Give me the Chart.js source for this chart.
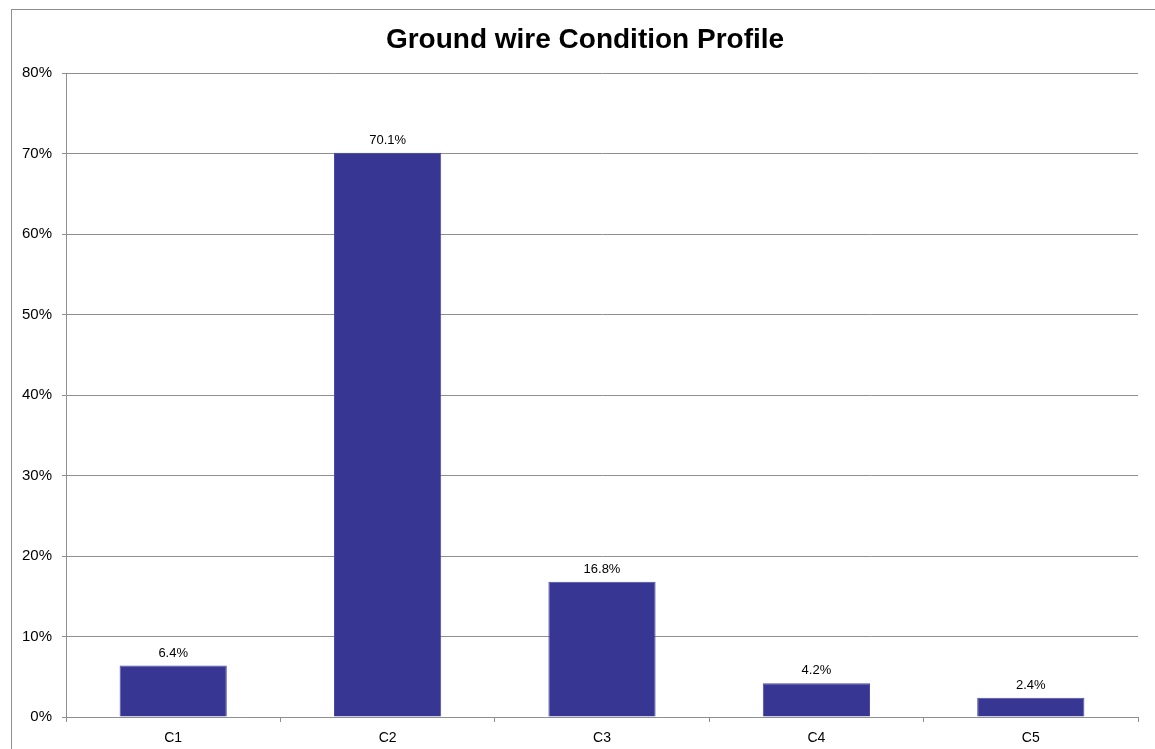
<!DOCTYPE html>
<html>
<head>
<meta charset="utf-8">
<script src="https://cdn.jsdelivr.net/npm/chart.js@4/dist/chart.umd.min.js"></script>
<style>
  html, body { margin: 0; padding: 0; background: #fff; }
  #wrap { width: 1155px; height: 749px; position: relative; }
</style>
</head>
<body>
<div id="wrap"><canvas id="c" width="1155" height="749"></canvas></div>
<script>
// Condition classes and share of ground wire in each (percent)
const categories = ['C1', 'C2', 'C3', 'C4', 'C5'];
const shares = [6.4, 70.1, 16.8, 4.2, 2.4];
const chartTitle = 'Ground wire Condition Profile';
const yMax = 80;
const yStep = 10;

const FONT = '"Liberation Sans", Arial, Helvetica, sans-serif';
const GRID = '#8f8f8f';

// Outer frame and title drawn on the canvas
const frameAndTitle = {
  id: 'frameAndTitle',
  beforeDraw(chart) {
    const ctx = chart.ctx;
    ctx.save();
    ctx.strokeStyle = '#8f8f8f';
    ctx.lineWidth = 1;
    ctx.strokeRect(11.5, 9.5, 1160, 760);
    ctx.fillStyle = '#000';
    ctx.font = 'bold 28px ' + FONT;
    ctx.textAlign = 'center';
    ctx.textBaseline = 'alphabetic';
    ctx.fillText(chartTitle, 585, 48);
    ctx.restore();
  }
};

// Value labels above each bar
const valueLabels = {
  id: 'valueLabels',
  afterDatasetsDraw(chart) {
    const ctx = chart.ctx;
    const meta = chart.getDatasetMeta(0);
    ctx.save();
    ctx.fillStyle = '#000';
    ctx.font = '13px ' + FONT;
    ctx.textAlign = 'center';
    ctx.textBaseline = 'bottom';
    meta.data.forEach((bar, i) => {
      ctx.fillText(shares[i].toFixed(1) + '%', bar.x, bar.y - 6);
    });
    ctx.restore();
  }
};

new Chart(document.getElementById('c'), {
  type: 'bar',
  data: {
    labels: categories,
    datasets: [{
      data: shares,
      backgroundColor: '#373793',
      borderColor: '#4a4aa6',
      borderWidth: 1,
      barPercentage: 1,
      categoryPercentage: 0.5
    }]
  },
  options: {
    responsive: false,
    animation: false,
    devicePixelRatio: 1,
    layout: { padding: { top: 73, right: 17, left: 0, bottom: 0 } },
    plugins: {
      legend: { display: false },
      title: { display: false },
      tooltip: { enabled: false }
    },
    scales: {
      x: {
        grid: {
          offset: true,
          drawOnChartArea: false,
          color: GRID,
          tickLength: 5
        },
        border: { color: GRID, width: 1 },
        ticks: {
          color: '#000',
          font: { family: FONT, size: 14 },
          padding: 8
        },
        afterFit(scale) { scale.height = 32; }
      },
      y: {
        min: 0,
        max: yMax,
        grid: {
          color: GRID,
          tickLength: 4
        },
        border: { color: GRID, width: 1 },
        ticks: {
          stepSize: yStep,
          color: '#000',
          font: { family: FONT, size: 15 },
          padding: 10,
          callback: v => v + '%'
        },
        afterFit(scale) { scale.width = 66; }
      }
    }
  },
  plugins: [frameAndTitle, valueLabels]
});
</script>
</body>
</html>
